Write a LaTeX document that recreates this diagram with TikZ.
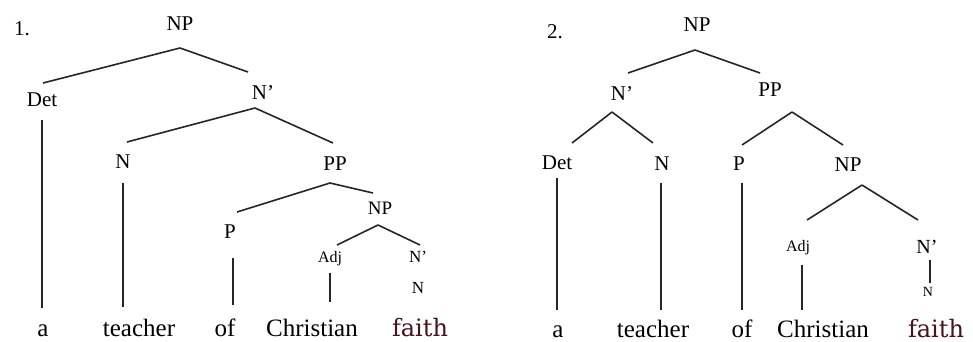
\documentclass[tikz,border=0pt]{standalone}
\usepackage{fontspec}
\setmainfont{Liberation Serif}
\newfontfamily\faithfont{DejaVu Serif}
\newcommand\brln[4]{\draw[br] ([shift={(#2)}]#1) -- ([shift={(#4)}]#3);}
\begin{document}
\begin{tikzpicture}[x=1pt,y=-1pt,
  lab/.style={inner sep=0pt,font=\fontsize{21}{21}\selectfont},
  sm/.style={inner sep=0pt,font=\fontsize{#1}{#1}\selectfont},
  word/.style={inner sep=0pt,anchor=base,font=\fontsize{25}{25}\selectfont},
  fword/.style={inner sep=0pt,anchor=base,text={rgb,255:red,70;green,20;blue,30},font=\faithfont\fontsize{24}{24}\selectfont},
  br/.style={draw=black!85,line width=1.6pt}]
\useasboundingbox[fill=white] (0,0) rectangle (973,341);
% ---------------- tree 1 ----------------
\node[lab] (one) at (22,29) {1.};
\node[lab] (NPa) at (180,24) {NP};
\node[sm=21] (Deta) at (42,100) {Det};
\node[lab] (Nba) at (263,93) {N’};
\node[lab] (Na) at (123,162) {N};
\node[lab] (PPa) at (335,164) {PP};
\node[lab] (Pa) at (230,232) {P};
\node[sm=19] (NPsa) at (380,208) {NP};
\node[sm=16] (Adja) at (330,259) {Adj};
\node[sm=17] (Nbsa) at (418,257) {N’};
\node[sm=17] (Nsa) at (418,288) {N};
\node[word] (wa1) at (43,336) {a};
\node[word] (wa2) at (139,336) {teacher};
\node[word] (wa3) at (225,336) {of};
\node[word] (wa4) at (312,336) {Christian};
\node[fword] (wa5) at (420,336) {faith};
\brln{NPa.center}{0,24}{Deta.center}{1,-17}
\brln{NPa.center}{0,24}{Nba.center}{-15,-21}
\brln{Nba.center}{-8,15}{Na.center}{4,-20}
\brln{Nba.center}{-8,15}{PPa.center}{-2,-21}
\brln{Deta.center}{0,20}{wa1.base}{-1,-28}
\brln{Na.center}{0,21}{wa2.base}{-16,-29}
\brln{PPa.center}{-5,19}{Pa.center}{7,-20}
\brln{PPa.center}{-5,19}{NPsa.center}{-7,-15}
\brln{Pa.center}{3,26}{wa3.base}{8,-31}
\brln{NPsa.center}{-2,17}{Adja.center}{7,-14}
\brln{NPsa.center}{-2,17}{Nbsa.center}{2,-12}
\brln{Adja.center}{0,14}{wa4.base}{18,-34}
% ---------------- tree 2 ----------------
\node[lab] (two) at (555,32) {2.};
\node[lab] (NPb) at (697,25) {NP};
\node[lab] (Nbb) at (622,94) {N’};
\node[lab] (PPb) at (770,90) {PP};
\node[sm=21] (Detb) at (557,163) {Det};
\node[lab] (Nb) at (662,164) {N};
\node[lab] (Pb) at (739,164) {P};
\node[lab] (NPbb) at (848,165) {NP};
\node[sm=16] (Adjb) at (798,248) {Adj};
\node[sm=20] (Nbbb) at (927,247) {N’};
\node[sm=14] (Nsb) at (928,292) {N};
\node[word] (wb1) at (558,337) {a};
\node[word] (wb2) at (653,337) {teacher};
\node[word] (wb3) at (742,337) {of};
\node[word] (wb4) at (823,337) {Christian};
\node[fword] (wb5) at (936,337) {faith};
\brln{NPb.center}{-2,25}{Nbb.center}{6,-21}
\brln{NPb.center}{-2,25}{PPb.center}{-10,-17}
\brln{Nbb.center}{-10,18}{Detb.center}{15,-20}
\brln{Nbb.center}{-10,18}{Nb.center}{-9,-21}
\brln{PPb.center}{22,22}{Pb.center}{3,-19}
\brln{PPb.center}{22,22}{NPbb.center}{-5,-20}
\brln{Detb.center}{0,15}{wb1.base}{-1,-27}
\brln{Nb.center}{-1,19}{wb2.base}{8,-27}
\brln{Pb.center}{3,19}{wb3.base}{0,-27}
\brln{NPbb.center}{14,20}{Adjb.center}{9,-28}
\brln{NPbb.center}{14,20}{Nbbb.center}{-9,-27}
\brln{Adjb.center}{4,17}{wb4.base}{-21,-27}
\brln{Nbbb.center}{3,13}{Nsb.center}{2,-9}
\end{tikzpicture}
\end{document}
